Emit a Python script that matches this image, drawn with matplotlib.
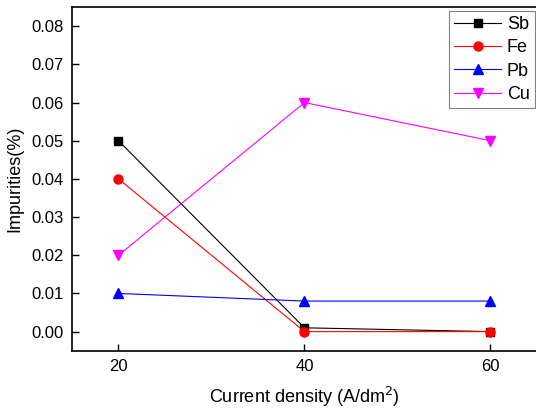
import matplotlib
matplotlib.use("Agg")
import matplotlib.pyplot as plt

plt.rcParams["font.family"] = ["Liberation Sans", "DejaVu Sans"]

current_density = [20, 40, 60]
sb = [0.05, 0.001, 0.0]
fe = [0.04, 0.0, 0.0]
pb = [0.01, 0.008, 0.008]
cu = [0.02, 0.06, 0.05]

fig = plt.figure(figsize=(5.36, 4.11), dpi=100)
ax = fig.add_axes([0.1343, 0.1467, 0.8675, 0.836])

ax.plot(current_density, sb, color="black", marker="s", ms=5.5, lw=0.8, label="Sb")
ax.plot(current_density, fe, color="red", marker="o", ms=6.5, lw=0.8, label="Fe")
ax.plot(current_density, pb, color="blue", marker="^", ms=7, lw=0.8, label="Pb")
ax.plot(current_density, cu, color="magenta", marker="v", ms=7, lw=0.8, label="Cu")

ax.set_xlim(15, 65)
ax.set_ylim(-0.005, 0.085)
ax.set_xticks(current_density)
ax.set_yticks([0.0, 0.01, 0.02, 0.03, 0.04, 0.05, 0.06, 0.07, 0.08])
ax.yaxis.set_major_formatter(matplotlib.ticker.FormatStrFormatter("%.2f"))
ax.tick_params(direction="in", length=5, width=1, labelsize=12, pad=6)
for s in ax.spines.values():
    s.set_linewidth(1.2)

ax.set_xlabel("Current density (A/dm$^2$)", fontsize=13, labelpad=8)
ax.set_ylabel("Impurities(%)", fontsize=13, labelpad=6)

leg = ax.legend(loc="upper right", bbox_to_anchor=(0.996, 0.99), fontsize=13,
                fancybox=False, edgecolor="gray", framealpha=1,
                handlelength=2.6, handletextpad=0.3, labelspacing=0.35,
                borderpad=0.3, borderaxespad=0)
leg.get_frame().set_linewidth(0.8)

fig.savefig("out.png", dpi=100)
